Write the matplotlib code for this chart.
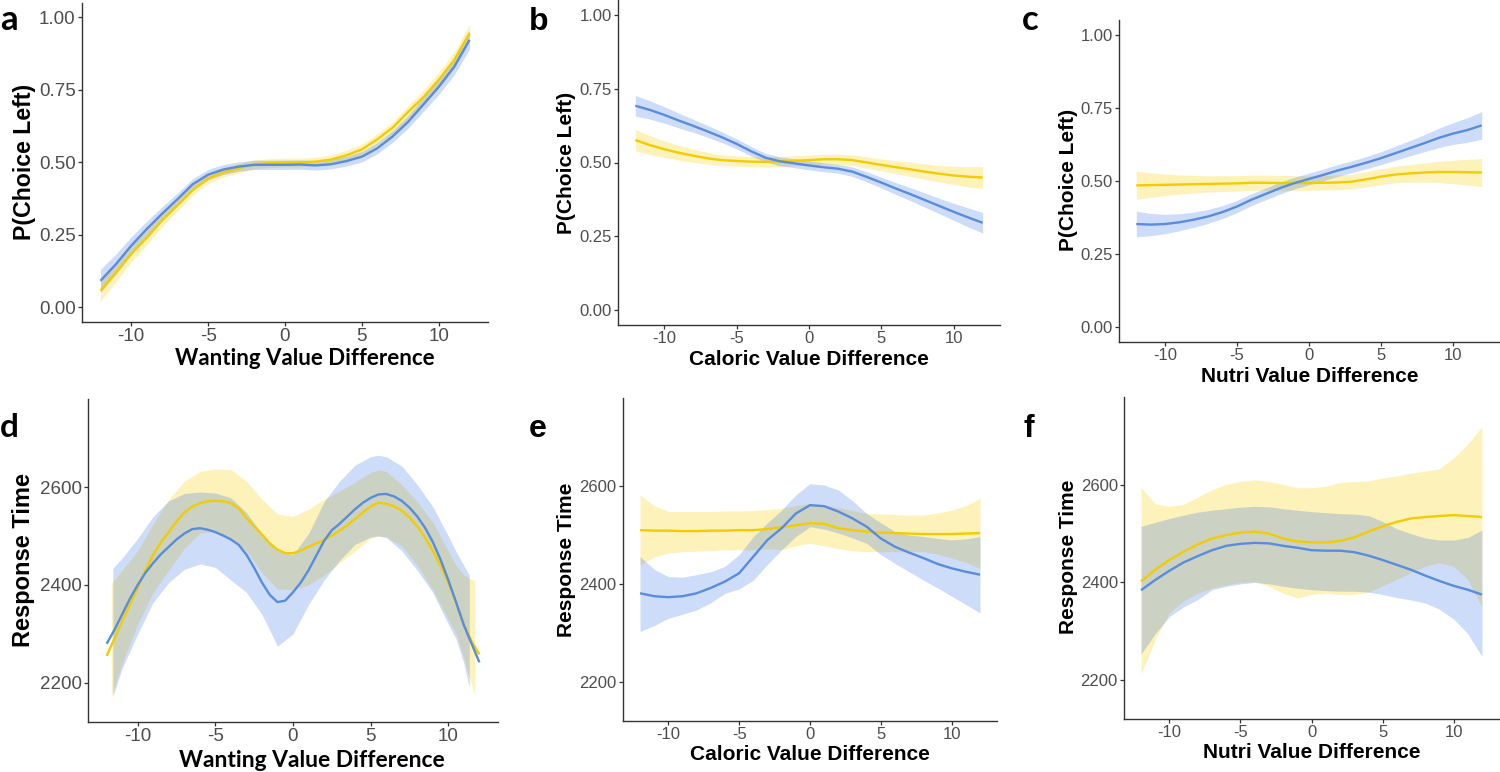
import numpy as np
import matplotlib
matplotlib.use("Agg")
import matplotlib.pyplot as plt

plt.rcParams['axes.unicode_minus'] = False
plt.rcParams['font.family'] = ['Liberation Sans', 'DejaVu Sans']

# ---------------- data ----------------
x_int = list(range(-12, 13))
x_half = [v / 2 for v in range(-24, 25)]

# Panel a: P(Choice Left) vs Wanting value difference
a_blue = [0.092, 0.149, 0.213, 0.270, 0.323, 0.373, 0.425, 0.458, 0.476, 0.486, 0.492, 0.492, 0.492,
          0.493, 0.490, 0.494, 0.505, 0.520, 0.549, 0.590, 0.640, 0.700, 0.761, 0.830, 0.923]
a_yellow = [0.058, 0.120, 0.185, 0.240, 0.300, 0.352, 0.405, 0.445, 0.466, 0.480, 0.494, 0.498, 0.500,
            0.500, 0.503, 0.510, 0.525, 0.545, 0.580, 0.620, 0.674, 0.725, 0.785, 0.853, 0.946]
a_blue_hw = [0.040, 0.035, 0.030, 0.027, 0.024, 0.021, 0.019, 0.018, 0.017, 0.016, 0.016, 0.016, 0.016,
             0.016, 0.016, 0.016, 0.017, 0.018, 0.019, 0.020, 0.022, 0.024, 0.026, 0.028, 0.032]
a_yellow_hw = [0.036, 0.032, 0.028, 0.025, 0.022, 0.020, 0.018, 0.017, 0.016, 0.016, 0.015, 0.015, 0.015,
               0.015, 0.015, 0.016, 0.017, 0.018, 0.019, 0.020, 0.022, 0.024, 0.026, 0.028, 0.030]

# Panel b: P(Choice Left) vs Caloric value difference
b_blue = [0.692, 0.678, 0.661, 0.642, 0.624, 0.605, 0.585, 0.563, 0.538, 0.516, 0.504, 0.497, 0.490,
          0.484, 0.479, 0.469, 0.451, 0.432, 0.412, 0.393, 0.373, 0.353, 0.333, 0.314, 0.296]
b_yellow = [0.576, 0.559, 0.545, 0.533, 0.523, 0.514, 0.508, 0.505, 0.503, 0.502, 0.504, 0.506, 0.508,
            0.511, 0.511, 0.508, 0.500, 0.492, 0.484, 0.477, 0.469, 0.462, 0.456, 0.452, 0.449]
b_blue_hw = [0.035, 0.031, 0.028, 0.025, 0.022, 0.020, 0.018, 0.017, 0.016, 0.015, 0.015, 0.015, 0.015,
             0.015, 0.015, 0.016, 0.017, 0.018, 0.020, 0.022, 0.024, 0.026, 0.029, 0.032, 0.035]
b_yellow_hw = [0.036, 0.032, 0.028, 0.025, 0.022, 0.020, 0.018, 0.017, 0.017, 0.017, 0.017, 0.017, 0.017,
               0.017, 0.017, 0.018, 0.019, 0.020, 0.022, 0.024, 0.026, 0.028, 0.031, 0.034, 0.037]

# Panel c: P(Choice Left) vs Nutri value difference
c_blue = [0.353, 0.351, 0.353, 0.359, 0.368, 0.379, 0.394, 0.413, 0.436, 0.456, 0.476, 0.493, 0.507,
          0.521, 0.536, 0.549, 0.563, 0.578, 0.595, 0.612, 0.629, 0.647, 0.662, 0.674, 0.690]
c_yellow = [0.485, 0.486, 0.487, 0.488, 0.489, 0.490, 0.491, 0.492, 0.494, 0.494, 0.493, 0.493, 0.493,
            0.494, 0.495, 0.498, 0.506, 0.515, 0.522, 0.526, 0.529, 0.531, 0.531, 0.530, 0.529]
c_blue_hw = [0.044, 0.038, 0.033, 0.029, 0.026, 0.024, 0.022, 0.021, 0.020, 0.020, 0.020, 0.020, 0.020,
             0.020, 0.020, 0.020, 0.021, 0.022, 0.024, 0.026, 0.029, 0.033, 0.037, 0.042, 0.047]
c_yellow_hw = [0.048, 0.042, 0.037, 0.033, 0.030, 0.028, 0.027, 0.026, 0.026, 0.026, 0.026, 0.025, 0.025,
               0.025, 0.025, 0.025, 0.026, 0.027, 0.028, 0.030, 0.033, 0.036, 0.040, 0.044, 0.048]

# Panel d: Response time vs Wanting value difference (line read every 0.5)
d_blue = [2280, 2308, 2340, 2372, 2400, 2425, 2445, 2463, 2478, 2493, 2505, 2514, 2516, 2513, 2508,
          2501, 2493, 2482, 2462, 2435, 2405, 2380, 2365, 2368, 2385, 2405, 2430, 2460, 2490, 2512,
          2525, 2540, 2555, 2568, 2578, 2585, 2586, 2581, 2572, 2558, 2540, 2517, 2488, 2452, 2410,
          2365, 2318, 2280, 2242]
d_yellow = [2255, 2290, 2326, 2360, 2394, 2430, 2462, 2487, 2508, 2530, 2548, 2560, 2567, 2571, 2572,
            2571, 2567, 2557, 2537, 2520, 2503, 2485, 2472, 2465, 2465, 2470, 2478, 2485, 2492, 2501,
            2511, 2522, 2535, 2548, 2560, 2568, 2566, 2561, 2552, 2538, 2520, 2497, 2470, 2440, 2405,
            2363, 2320, 2285, 2258]
d_blue_rx = [-11.6, -11, -10, -9, -8, -7, -6, -5, -4, -3, -2, -1, 0, 1, 2, 3, 4, 5, 5.5, 6, 7, 8, 9,
             10, 10.5, 11, 11.35]
d_blue_lo = [2172, 2230, 2300, 2365, 2405, 2432, 2443, 2436, 2410, 2385, 2340, 2275, 2300, 2360, 2410,
             2450, 2483, 2498, 2500, 2497, 2470, 2430, 2385, 2320, 2290, 2240, 2190]
d_blue_hi = [2434, 2455, 2495, 2540, 2572, 2587, 2590, 2588, 2578, 2548, 2505, 2470, 2462, 2505, 2570,
             2612, 2645, 2662, 2665, 2662, 2643, 2605, 2560, 2500, 2468, 2440, 2420]
d_yellow_rx = [-11.7, -11, -10, -9, -8, -7, -6, -5, -4, -3, -2, -1, 0, 1, 2, 3, 4, 5, 5.5, 6, 7, 8, 9,
               10, 10.5, 11, 11.7]
d_yellow_lo = [2172, 2240, 2320, 2385, 2430, 2475, 2506, 2510, 2495, 2470, 2425, 2392, 2390, 2400, 2420,
               2445, 2470, 2495, 2500, 2498, 2480, 2440, 2390, 2330, 2300, 2250, 2175]
d_yellow_hi = [2403, 2430, 2470, 2525, 2575, 2612, 2632, 2637, 2636, 2612, 2575, 2545, 2540, 2555, 2575,
               2592, 2610, 2630, 2635, 2632, 2605, 2570, 2528, 2470, 2440, 2420, 2408]

# Panel e: Response time vs Caloric value difference
e_blue = [2381, 2375, 2373, 2375, 2381, 2392, 2405, 2422, 2456, 2490, 2514, 2544, 2561,
          2559, 2548, 2534, 2517, 2493, 2476, 2464, 2453, 2441, 2432, 2425, 2419]
e_yellow = [2510, 2509, 2509, 2508, 2508, 2509, 2509, 2510, 2510, 2512, 2516, 2520, 2524,
            2523, 2514, 2510, 2507, 2505, 2504, 2503, 2502, 2502, 2502, 2503, 2504]
e_blue_lo = [2303, 2315, 2330, 2338, 2347, 2362, 2381, 2390, 2408, 2440, 2470, 2497, 2517,
             2512, 2504, 2494, 2483, 2460, 2442, 2425, 2408, 2392, 2375, 2358, 2341]
e_blue_hi = [2456, 2430, 2415, 2414, 2419, 2425, 2436, 2460, 2497, 2525, 2551, 2582, 2605,
             2602, 2592, 2570, 2544, 2525, 2507, 2500, 2497, 2493, 2490, 2492, 2497]
e_yellow_lo = [2439, 2455, 2463, 2466, 2467, 2468, 2470, 2470, 2470, 2472, 2470, 2478, 2483,
               2478, 2472, 2468, 2466, 2466, 2466, 2466, 2466, 2461, 2453, 2444, 2432]
e_yellow_hi = [2582, 2560, 2548, 2548, 2548, 2548, 2549, 2549, 2550, 2552, 2555, 2560, 2565,
               2561, 2556, 2550, 2544, 2543, 2542, 2541, 2541, 2545, 2551, 2560, 2575]

# Panel f: Response time vs Nutri value difference
f_blue = [2384, 2405, 2424, 2441, 2454, 2466, 2475, 2479, 2481, 2480, 2475, 2471, 2466,
          2465, 2465, 2462, 2455, 2446, 2436, 2426, 2414, 2403, 2393, 2385, 2375]
f_yellow = [2402, 2426, 2446, 2463, 2478, 2490, 2497, 2502, 2504, 2500, 2490, 2484, 2482,
            2482, 2485, 2492, 2504, 2515, 2524, 2531, 2534, 2536, 2538, 2536, 2534]
f_blue_lo = [2253, 2295, 2330, 2350, 2365, 2385, 2392, 2397, 2400, 2397, 2392, 2388, 2385,
             2383, 2382, 2382, 2380, 2375, 2369, 2364, 2358, 2345, 2325, 2295, 2248]
f_blue_hi = [2515, 2523, 2531, 2538, 2544, 2548, 2551, 2554, 2556, 2555, 2551, 2548, 2545,
             2543, 2541, 2540, 2537, 2525, 2510, 2500, 2491, 2487, 2487, 2492, 2507]
f_yellow_lo = [2212, 2283, 2338, 2362, 2378, 2388, 2395, 2400, 2402, 2392, 2378, 2368, 2375,
               2378, 2375, 2375, 2380, 2393, 2406, 2420, 2433, 2440, 2433, 2406, 2349]
f_yellow_hi = [2594, 2561, 2556, 2560, 2575, 2590, 2601, 2607, 2610, 2607, 2601, 2594, 2594,
               2597, 2605, 2607, 2608, 2614, 2618, 2624, 2628, 2633, 2655, 2683, 2719]

x_ticks = [-10, -5, 0, 5, 10]
p_ticks = [0.0, 0.25, 0.50, 0.75, 1.00]
p_tick_labels = ["0.00", "0.25", "0.50", "0.75", "1.00"]
rt_ticks = [2200, 2400, 2600]
rt_tick_labels = ["2200", "2400", "2600"]

# ---------------- style ----------------
BLUE_LINE = "#5A8CDC"
BLUE_FILL = "#3F78E4"
YEL_LINE = "#F2CC00"
YEL_FILL = "#FAD000"
W, H = 1500, 772
ARIAL = ["Liberation Sans", "DejaVu Sans"]
CALI = ["Lato", "DejaVu Sans"]

fig = plt.figure(figsize=(15, 7.72), dpi=100)


def add_ax(l, r, t, b):
    return fig.add_axes([l / W, 1 - b / H, (r - l) / W, (b - t) / H])


def style(ax, ylim, yticks, ylabels, tsize):
    ax.set_xlim(-13.2, 13.2)
    ax.set_ylim(*ylim)
    ax.set_xticks(x_ticks)
    ax.set_xticklabels([str(v) for v in x_ticks], family=ARIAL)
    ax.set_yticks(yticks)
    ax.set_yticklabels(ylabels, family=ARIAL)
    for s in ("top", "right"):
        ax.spines[s].set_visible(False)
    for s in ("left", "bottom"):
        ax.spines[s].set_color("#333333")
        ax.spines[s].set_linewidth(1.0)
    ax.tick_params(length=3, width=0.9, color="#333333", labelcolor="#4D4D4D",
                   labelsize=tsize, pad=1.5)
    ax.set_facecolor("none")


def draw(ax, yx, ylo, yhi, yv, bx, blo, bhi, bv, lx=x_int):
    ax.fill_between(yx, ylo, yhi, color=YEL_FILL, alpha=0.27, lw=0)
    ax.plot(lx, yv, color=YEL_LINE, lw=1.7, solid_capstyle="butt")
    ax.fill_between(bx, blo, bhi, color=BLUE_FILL, alpha=0.26, lw=0)
    ax.plot(lx, bv, color=BLUE_LINE, lw=1.7, solid_capstyle="butt")


def draw_sym(ax, yv, yhw, bv, bhw):
    yv, yhw, bv, bhw = map(np.asarray, (yv, yhw, bv, bhw))
    draw(ax, x_int, yv - yhw, yv + yhw, yv, x_int, bv - bhw, bv + bhw, bv)


P_LIM = (-0.05, 1.05)
RT_LIM = (2120, 2780)

# a
ax = add_ax(82, 488, 3, 322)
draw_sym(ax, a_yellow, a_yellow_hw, a_blue, a_blue_hw)
style(ax, P_LIM, p_ticks, p_tick_labels, 13.5)
# b
ax = add_ax(618, 1000, 0, 325)
draw_sym(ax, b_yellow, b_yellow_hw, b_blue, b_blue_hw)
style(ax, P_LIM, p_ticks, p_tick_labels, 12)
# c
ax = add_ax(1119, 1499, 20, 342)
draw_sym(ax, c_yellow, c_yellow_hw, c_blue, c_blue_hw)
style(ax, P_LIM, p_ticks, p_tick_labels, 12)
# d
ax = add_ax(88, 498, 399, 722)
draw(ax, d_yellow_rx, d_yellow_lo, d_yellow_hi, d_yellow,
     d_blue_rx, d_blue_lo, d_blue_hi, d_blue, lx=x_half)
style(ax, RT_LIM, rt_ticks, rt_tick_labels, 13.5)
# e
ax = add_ax(623, 997, 398, 721)
draw(ax, x_int, e_yellow_lo, e_yellow_hi, e_yellow,
     x_int, e_blue_lo, e_blue_hi, e_blue)
style(ax, RT_LIM, rt_ticks, rt_tick_labels, 12)
# f
ax = add_ax(1124, 1499, 397, 719)
draw(ax, x_int, f_yellow_lo, f_yellow_hi, f_yellow,
     x_int, f_blue_lo, f_blue_hi, f_blue)
style(ax, RT_LIM, rt_ticks, rt_tick_labels, 12)


def ftxt(px, py, s, **kw):
    fig.text(px / W, 1 - py / H, s, **kw)


# panel letters
ftxt(0, 30, "a", fontsize=25, fontweight="bold", family=CALI, ha="left", va="baseline")
ftxt(529, 30, "b", fontsize=23, fontweight="bold", family=ARIAL, ha="left", va="baseline")
ftxt(1022, 30, "c", fontsize=25, fontweight="bold", family=CALI, ha="left", va="baseline")
ftxt(0, 437, "d", fontsize=24, fontweight="bold", family=CALI, ha="left", va="baseline")
ftxt(529, 437, "e", fontsize=23, fontweight="bold", family=ARIAL, ha="left", va="baseline")
ftxt(1024, 437, "f", fontsize=23, fontweight="bold", family=ARIAL, ha="left", va="baseline")

# x labels
ftxt(305, 365, "Wanting Value Difference", fontsize=16, fontweight="bold",
     family=CALI, ha="center", va="baseline")
ftxt(809, 365, "Caloric Value Difference", fontsize=15, fontweight="bold", family=ARIAL,
     ha="center", va="baseline")
ftxt(1310, 382, "Nutri Value Difference", fontsize=15, fontweight="bold", family=ARIAL,
     ha="center", va="baseline")
ftxt(312, 767, "Wanting Value Difference", fontsize=16.5, fontweight="bold",
     family=CALI, ha="center", va="baseline")
ftxt(810, 760, "Caloric Value Difference", fontsize=15, fontweight="bold", family=ARIAL,
     ha="center", va="baseline")
ftxt(1312, 758, "Nutri Value Difference", fontsize=15, fontweight="bold", family=ARIAL,
     ha="center", va="baseline")

# y labels
ftxt(25, 162, "P(Choice Left)", fontsize=16.7, fontweight="bold", family=ARIAL, rotation=90,
     ha="center", va="center")
ftxt(567, 163, "P(Choice Left)", fontsize=15, fontweight="bold", family=ARIAL, rotation=90,
     ha="center", va="center")
ftxt(1069, 180, "P(Choice Left)", fontsize=15, fontweight="bold", family=ARIAL, rotation=90,
     ha="center", va="center")
ftxt(24, 560, "Response Time", fontsize=17, fontweight="bold", family=ARIAL, rotation=90,
     ha="center", va="center")
ftxt(566, 560, "Response Time", fontsize=15, fontweight="bold", family=ARIAL, rotation=90,
     ha="center", va="center")
ftxt(1068, 557, "Response Time", fontsize=15, fontweight="bold", family=ARIAL, rotation=90,
     ha="center", va="center")

fig.savefig("out.png", dpi=100)
